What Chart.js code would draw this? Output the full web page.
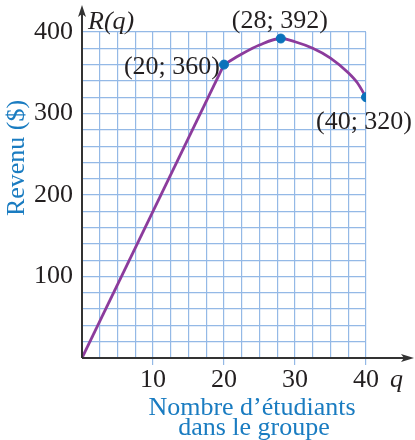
<!DOCTYPE html>
<html>
<head>
<meta charset="utf-8">
<script src="https://cdn.jsdelivr.net/npm/chart.js@4/dist/chart.umd.min.js"></script>
<style>
  html, body { margin: 0; padding: 0; background: #fff; }
  #wrap { width: 415px; height: 440px; }
</style>
</head>
<body>
<div id="wrap"><canvas id="c" width="415" height="440"></canvas></div>
<script>
// Revenu R(q) selon le nombre d'étudiants q
const linearQ = [0, 20];
const linearR = [0, 360];
const curveQ = [20, 22.5, 25, 28, 30, 32.5, 35, 37.5, 38.75, 40];
const curveR = [360, 373, 384, 392, 388, 380, 368, 350, 338, 320];
const keyQ = [20, 28, 40];
const keyR = [360, 392, 320];
const keyLabels = ['(20; 360)', '(28; 392)', '(40; 320)'];
const xTickLabels = [10, 20, 30, 40];
const yTickLabels = [100, 200, 300, 400];

const SERIF = '"Liberation Serif", "Times New Roman", serif';
const BLUE = '#1a7cc1';
const GRID = '#94b9e6';
const AXIS = '#333333';
const PURPLE = '#8c3b9c';
const DOT = '#0b72bb';
const TEXT = '#231f20';

const toXY = (xs, ys) => xs.map((x, i) => ({ x, y: ys[i] }));

const decorations = {
  id: 'decorations',
  afterDraw(chart) {
    const { ctx, scales: { x, y } } = chart;
    const x0 = x.getPixelForValue(0);
    const y0 = y.getPixelForValue(0);
    ctx.save();
    // axes with arrow heads
    ctx.strokeStyle = AXIS;
    ctx.fillStyle = AXIS;
    ctx.lineWidth = 2;
    ctx.beginPath();
    ctx.moveTo(x0, y0);
    ctx.lineTo(x0, 14);
    ctx.moveTo(x0, y0);
    ctx.lineTo(404, y0);
    ctx.stroke();
    ctx.beginPath();
    ctx.moveTo(x0, 5);
    ctx.lineTo(x0 - 4, 17);
    ctx.lineTo(x0, 14);
    ctx.lineTo(x0 + 4, 17);
    ctx.closePath();
    ctx.fill();
    ctx.beginPath();
    ctx.moveTo(414, y0);
    ctx.lineTo(401, y0 - 4);
    ctx.lineTo(404, y0);
    ctx.lineTo(401, y0 + 4);
    ctx.closePath();
    ctx.fill();

    // variable names
    ctx.fillStyle = TEXT;
    ctx.font = 'italic 26px ' + SERIF;
    ctx.textAlign = 'left';
    ctx.textBaseline = 'middle';
    ctx.fillText('R(q)', x0 + 6, 22);
    ctx.fillText('q', 390, 380);

    // point labels
    ctx.font = '26px ' + SERIF;
    const offs = [
      { dx: -4, dy: 3, align: 'right' },
      { dx: -1, dy: -17, align: 'center' },
      { dx: -2, dy: 25, align: 'center' }
    ];
    keyQ.forEach((q, i) => {
      const px = x.getPixelForValue(q);
      const py = y.getPixelForValue(keyR[i]);
      ctx.textAlign = offs[i].align;
      ctx.fillText(keyLabels[i], px + offs[i].dx, py + offs[i].dy);
    });

    // axis titles
    ctx.fillStyle = BLUE;
    ctx.textAlign = 'center';
    ctx.fillText('Nombre d\u2019étudiants', 252, 408);
    ctx.fillText('dans le groupe', 254, 428);
    ctx.save();
    ctx.translate(17, 158);
    ctx.rotate(-Math.PI / 2);
    ctx.fillText('Revenu ($)', 0, 0);
    ctx.restore();
    ctx.restore();
  }
};

new Chart(document.getElementById('c'), {
  type: 'scatter',
  data: {
    datasets: [
      {
        data: toXY(keyQ, keyR),
        showLine: false,
        pointRadius: 4.5,
        pointBackgroundColor: DOT,
        pointBorderColor: DOT,
        order: 0
      },
      {
        data: toXY(linearQ, linearR),
        showLine: true,
        borderColor: PURPLE,
        borderWidth: 2.8,
        pointRadius: 0,
        tension: 0,
        order: 1
      },
      {
        data: toXY(curveQ, curveR),
        showLine: true,
        borderColor: PURPLE,
        borderWidth: 2.8,
        pointRadius: 0,
        cubicInterpolationMode: 'monotone',
        order: 1
      }
    ]
  },
  options: {
    responsive: false,
    animation: false,
    layout: { padding: { top: 32, right: 49, left: 0, bottom: 0 } },
    plugins: { legend: { display: false }, tooltip: { enabled: false } },
    scales: {
      x: {
        type: 'linear',
        min: 0,
        max: 40,
        afterFit: s => { s.height = 82; },
        border: { display: false },
        grid: {
          color: c => (c.tick && c.tick.value > 0 ? GRID : 'rgba(0,0,0,0)'),
          lineWidth: 1.2,
          tickLength: 7,
          tickColor: c => (c.tick && xTickLabels.includes(c.tick.value) ? GRID : 'rgba(0,0,0,0)')
        },
        ticks: {
          stepSize: 2.5,
          autoSkip: false,
          maxRotation: 0,
          padding: 0,
          color: TEXT,
          font: { family: SERIF, size: 26 },
          callback: v => (xTickLabels.includes(v) ? String(v) : '')
        }
      },
      y: {
        type: 'linear',
        min: 0,
        max: 400,
        afterFit: s => { s.width = 82; },
        border: { display: false },
        grid: {
          color: c => (c.tick && c.tick.value > 0 ? GRID : 'rgba(0,0,0,0)'),
          lineWidth: 1.2,
          drawTicks: false
        },
        ticks: {
          stepSize: 20,
          autoSkip: false,
          padding: 9,
          color: TEXT,
          font: { family: SERIF, size: 26 },
          callback: v => (yTickLabels.includes(v) ? String(v) : '')
        }
      }
    }
  },
  plugins: [decorations]
});
</script>
</body>
</html>
